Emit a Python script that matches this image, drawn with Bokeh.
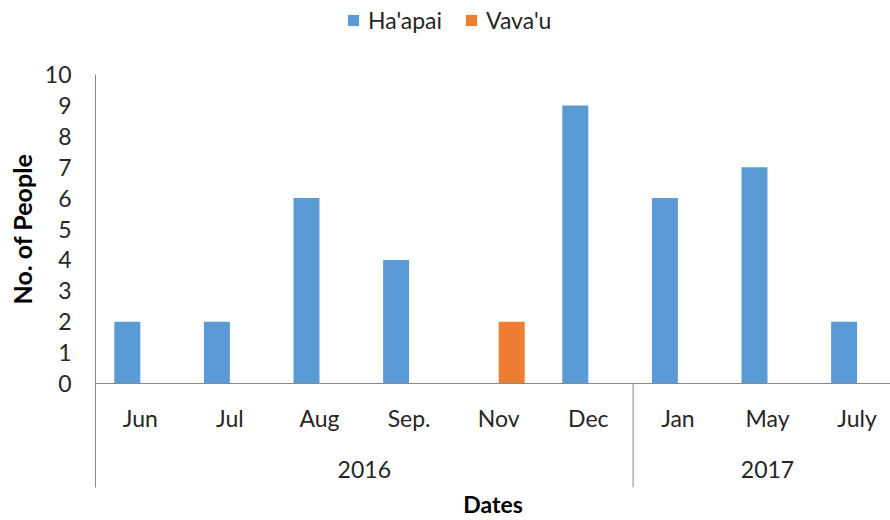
import numpy as np
from bokeh.plotting import figure
from bokeh.models import (ColumnDataSource, Range1d, FixedTicker, Span, Legend,
                          LegendItem, Title)
from bokeh.transform import dodge
from bokeh.embed import file_html
from bokeh.resources import INLINE

# ---- data ----
years = ["2016", "2016", "2016", "2016", "2016", "2016", "2017", "2017", "2017"]
months = ["Jun", "Jul", "Aug", "Sep.", "Nov", "Dec", "Jan", "May", "July"]
haapai = [2, 2, 6, 4, 0, 9, 6, 7, 2]
vavau = [0, 0, 0, 0, 2, 0, 0, 0, 0]
y_ticks = list(range(0, 11))

BLUE = "#5B9BD5"
ORANGE = "#ED7D31"
AXIS = "#898989"
TXT = "#262626"
FONT = "Lato"

idx = np.arange(len(months))
centers = idx + 0.5
src = ColumnDataSource(dict(x=centers, month=months, haapai=haapai, vavau=vavau))

# group (year) info
group_names = []
group_start = []
group_end = []
for i, yname in enumerate(years):
    if not group_names or group_names[-1] != yname:
        group_names.append(yname)
        group_start.append(i)
        group_end.append(i + 1)
    else:
        group_end[-1] = i + 1
group_centers = [(s + e) / 2 for s, e in zip(group_start, group_end)]
inner_bounds = group_start[1:]

# pixel geometry -> ranges
ppu_y = 30.9
y_top = 10 + 74 / ppu_y
y_bot = -104 / ppu_y
x_end = 795 / 89.6

p = figure(width=890, height=520, output_backend="svg", toolbar_location=None,
           x_range=Range1d(0, x_end), y_range=Range1d(y_bot, y_top),
           x_axis_location=None, min_border_left=95, min_border_right=0,
           min_border_top=0, min_border_bottom=33)
p.outline_line_color = None
p.grid.visible = False
p.background_fill_color = "white"

yax = p.yaxis[0]
yax.ticker = FixedTicker(ticks=y_ticks)
yax.bounds = (y_bot, 10)
yax.major_tick_in = 0
yax.major_tick_out = 0
yax.minor_tick_in = 0
yax.minor_tick_out = 0
yax.axis_line_color = AXIS
yax.major_label_standoff = 24
yax.major_label_text_font = FONT
yax.major_label_text_font_size = "23px"
yax.major_label_text_color = TXT

r1 = p.vbar(x=dodge("x", -0.145, range=p.x_range), top="haapai", width=0.29,
            source=src, fill_color=BLUE, line_color=None)
r2 = p.vbar(x=dodge("x", 0.145, range=p.x_range), top="vavau", width=0.29,
            source=src, fill_color=ORANGE, line_color=None)

p.add_layout(Span(location=0, dimension="width", line_color=AXIS, line_width=1))

# group separators below the axis
p.segment(x0=inner_bounds, x1=inner_bounds, y0=[0] * len(inner_bounds),
          y1=[y_bot] * len(inner_bounds), line_color=AXIS, line_width=1)

# month labels
p.text(x="x", y=-1.13, text="month", source=src, text_align="center",
       text_baseline="middle", text_font={"value": FONT}, text_font_size="23px",
       text_color=TXT)
# year labels
p.text(x=group_centers, y=[-2.78] * len(group_centers), text=group_names,
       text_align="center", text_baseline="middle", text_font={"value": FONT},
       text_font_size="23px", text_color=TXT)

# y axis title (left side), shifted to be centred on the 0..10 part
p.add_layout(Title(text="No. of People", align="left", offset=183,
                   vertical_align="middle", standoff=8, text_font=FONT,
                   text_font_size="25px", text_font_style="bold",
                   text_color="#000000"), "left")

# x axis title
p.add_layout(Title(text="Dates", align="center", text_font=FONT,
                   text_font_size="23px", text_font_style="bold",
                   text_color="#000000", standoff=0), "below")

legend = Legend(items=[LegendItem(label="Ha'apai", renderers=[r1]),
                       LegendItem(label="Vava'u", renderers=[r2])],
                orientation="horizontal", location=(251, 453),
                glyph_width=14, glyph_height=14, label_standoff=8, spacing=22,
                padding=0, margin=0, border_line_color=None,
                background_fill_alpha=0, label_text_font=FONT,
                label_text_font_size="23px", label_text_color=TXT)
p.add_layout(legend)

open("out.html", "w").write(file_html(p, INLINE))
